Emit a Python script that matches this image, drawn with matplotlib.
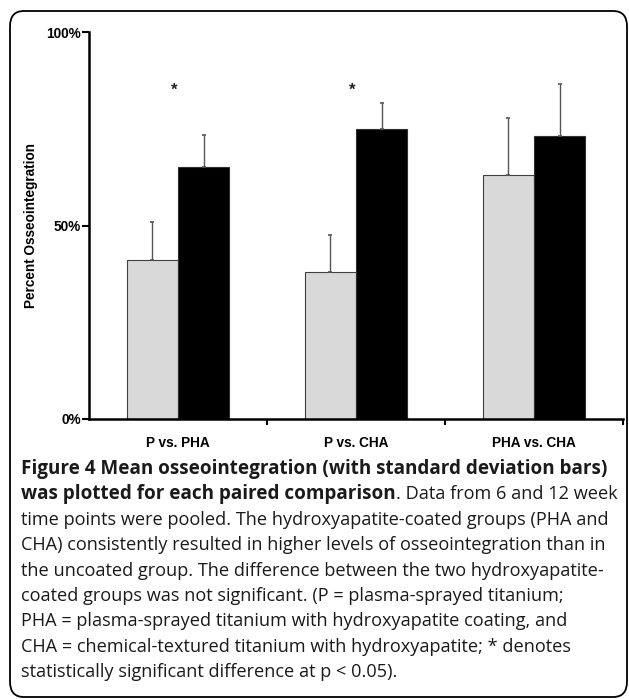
import numpy as np
import matplotlib
matplotlib.use("Agg")
import matplotlib.pyplot as plt
from matplotlib.patches import FancyBboxPatch

# data
comparisons = ["P vs. PHA", "P vs. CHA", "PHA vs. CHA"]
first_means = [41, 38, 63]
first_sd = [10, 9.6, 14.8]
second_means = [65, 75, 73]
second_sd = [8.4, 6.6, 13.5]
significant = [True, True, False]
star_level = 85

caption_lines = [
    [("Figure 4 Mean osseointegration (with standard deviation bars)", "bold")],
    [("was plotted for each paired comparison", "bold"), (". Data from 6 and 12 week", "normal")],
    [("time points were pooled. The hydroxyapatite-coated groups (PHA and", "normal")],
    [("CHA) consistently resulted in higher levels of osseointegration than in", "normal")],
    [("the uncoated group. The difference between the two hydroxyapatite-", "normal")],
    [("coated groups was not significant. (P = plasma-sprayed titanium;", "normal")],
    [("PHA = plasma-sprayed titanium with hydroxyapatite coating, and", "normal")],
    [("CHA = chemical-textured titanium with hydroxyapatite; * denotes", "normal")],
    [("statistically significant difference at p < 0.05).", "normal")],
]

W, H = 629, 699
fig = plt.figure(figsize=(W / 100, H / 100), dpi=100)

# rounded frame around figure + caption
frame = FancyBboxPatch((10 / W, 2 / H), 617 / W, 686 / H,
                       boxstyle="round,pad=0,rounding_size=0.022",
                       transform=fig.transFigure, fill=False,
                       edgecolor="black", linewidth=1.3)
fig.patches.append(frame)

ax = fig.add_axes([89 / W, 1 - 419 / H, 534 / W, 387 / H])
x = np.arange(len(comparisons))
bw = 0.287

ax.bar(x - bw / 2, first_means, bw, color="#d9d9d9", edgecolor="#404040", linewidth=0.8)
ax.bar(x + bw / 2, second_means, bw, color="black", edgecolor="#303030", linewidth=0.8)
ax.errorbar(x - bw / 2, first_means, yerr=[np.zeros(3), first_sd], fmt="none",
            ecolor="#555555", elinewidth=1.0, capsize=1.6, capthick=1.2)
ax.errorbar(x + bw / 2, second_means, yerr=[np.zeros(3), second_sd], fmt="none",
            ecolor="#555555", elinewidth=1.0, capsize=1.6, capthick=1.2)

for xi, sig in zip(x, significant):
    if sig:
        ax.text(xi - 0.02, star_level, "*", ha="center", va="center",
                fontsize=12, fontweight="bold", family="Liberation Sans", color="#222222")

ax.set_xlim(-0.5, 2.5)
ax.set_ylim(0, 100)
ax.set_yticks([0, 50, 100])
ax.set_yticklabels(["0%", "50%", "100%"], fontsize=9.8, fontweight="bold",
                   family="Liberation Sans")
ax.set_xticks(x)
ax.set_xticklabels(comparisons, fontsize=9.8, fontweight="bold", family="Liberation Sans")
ax.set_xticks([0.5, 1.5, 2.5], minor=True)
ax.tick_params(axis="x", which="major", length=0, pad=12)
ax.tick_params(axis="x", which="minor", length=4, width=1.5, direction="out")
ax.tick_params(axis="y", length=5, width=1.5, direction="out", pad=1)
for s in ["top", "right"]:
    ax.spines[s].set_visible(False)
ax.spines["left"].set_linewidth(1.8)
ax.spines["bottom"].set_linewidth(1.8)
ax.set_ylabel("Percent Osseointegration", fontsize=9.8, fontweight="bold",
              family="Liberation Sans", labelpad=6)

# caption, one text per line (bold lead-in, then regular)
renderer = fig.canvas.get_renderer()
base0 = 474
step = 25.4
sizes = {"bold": 13.55, "normal": 13.1}
for i, parts in enumerate(caption_lines):
    xp = 21
    yp = 1 - (base0 + i * step) / H
    for txt, wt in parts:
        t = fig.text(xp / W, yp, txt, fontsize=sizes[wt], fontweight=wt,
                     family="Open Sans", va="baseline", ha="left", color="#1a1a1a")
        bb = t.get_window_extent(renderer)
        xp = bb.x1

fig.savefig("out.png", dpi=100)
